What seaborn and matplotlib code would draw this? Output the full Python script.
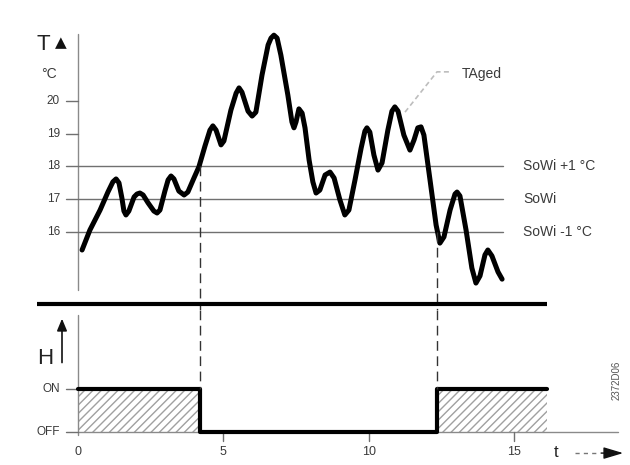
import numpy as np
import matplotlib
matplotlib.use("Agg")
import matplotlib.pyplot as plt
import seaborn as sns

# attenuated room temperature TAged over time (h, degC)
t_hours = [0.14, 0.41, 0.76, 1.03, 1.20, 1.31, 1.41, 1.51, 1.58, 1.65, 1.75,
           1.93, 2.03, 2.13, 2.24, 2.41, 2.61, 2.72, 2.82, 2.99, 3.10, 3.20,
           3.30, 3.47, 3.65, 3.78, 3.99, 4.16, 4.37, 4.54, 4.64, 4.75, 4.92,
           5.02, 5.26, 5.44, 5.54, 5.64, 5.85, 5.99, 6.12, 6.33, 6.54, 6.64,
           6.74, 6.85, 6.98, 7.22, 7.36, 7.43, 7.50, 7.60, 7.71, 7.81, 7.95,
           8.08, 8.19, 8.32, 8.50, 8.67, 8.81, 9.01, 9.18, 9.32, 9.53, 9.74,
           9.87, 9.94, 10.04, 10.18, 10.32, 10.46, 10.66, 10.80, 10.90, 11.01,
           11.21, 11.42, 11.56, 11.69, 11.80, 11.90, 12.11, 12.32, 12.45,
           12.59, 12.80, 12.97, 13.04, 13.14, 13.35, 13.55, 13.69, 13.83,
           14.00, 14.10, 14.24, 14.45, 14.59]
t_aged = [15.45, 16.06, 16.67, 17.22, 17.53, 17.62, 17.50, 17.04, 16.64, 16.52, 16.64,
          17.07, 17.16, 17.19, 17.13, 16.89, 16.64, 16.58, 16.67, 17.25, 17.59, 17.71,
          17.62, 17.25, 17.13, 17.22, 17.65, 17.99, 18.63, 19.11, 19.24, 19.11, 18.66,
          18.78, 19.72, 20.24, 20.40, 20.27, 19.69, 19.54, 19.66, 20.79, 21.71, 21.92,
          22.01, 21.92, 21.40, 20.18, 19.36, 19.18, 19.36, 19.76, 19.63, 19.18, 18.20,
          17.53, 17.19, 17.28, 17.74, 17.83, 17.65, 16.98, 16.52, 16.67, 17.59, 18.56,
          19.08, 19.18, 19.05, 18.35, 17.89, 18.11, 19.11, 19.69, 19.82, 19.69,
          18.96, 18.50, 18.81, 19.18, 19.21, 18.96, 17.59, 16.21, 15.66,
          15.85, 16.67, 17.16, 17.22, 17.10, 16.06, 14.90, 14.44, 14.66,
          15.30, 15.45, 15.27, 14.78, 14.56]

sowi = 17
levels = [sowi + 1, sowi, sowi - 1]
level_labels = ["SoWi +1 °C", "SoWi", "SoWi -1 °C"]
t_ticks = [16, 17, 18, 19, 20]

# heating state H (1 = ON, 0 = OFF)
heat_t = [0, 4.2, 12.35, 16.13]
heat_state = [1, 0, 1, 1]
x_ticks = [0, 5, 10, 15]

sns.set_theme(style="white")
plt.rcParams["font.family"] = ["Liberation Sans", "DejaVu Sans"]

fig = plt.figure(figsize=(6.3, 4.65), dpi=100)
ax_t = fig.add_axes([0, 155 / 465, 1, 295 / 465])
ax_h = fig.add_axes([0, 0, 1, 155 / 465])
xlim = (-2.683, 18.99)
for ax in (ax_t, ax_h):
    ax.set_xlim(*xlim)
    ax.axis("off")
ax_t.set_ylim(13.618, 22.626)
ax_h.set_ylim(-0.767, 2.837)

grey = "#707070"
txt = "#3a3a3a"

# ---- temperature panel
ax_t.plot([0, 0], [14.23, 22.05], color="#8a8a8a", lw=1)
for v in t_ticks:
    ax_t.plot([-0.41, 0], [v, v], color=grey, lw=1)
    ax_t.text(-0.62, v, str(v), ha="right", va="center", fontsize=8.5, color=txt)
for v, lab in zip(levels, level_labels):
    ax_t.plot([0, 14.62], [v, v], color=grey, lw=1)
    ax_t.text(15.31, v, lab, ha="left", va="center", fontsize=10, color=txt)
ax_t.text(-1.2, 21.72, "T", ha="center", va="center", fontsize=16, color="#222")
ax_t.text(-0.58, 21.78, "▲", ha="center", va="center", fontsize=11, color="#111",
          family="DejaVu Sans")
ax_t.text(-1.0, 20.82, "°C", ha="center", va="center", fontsize=10, color=txt)

sns.lineplot(x=t_hours, y=t_aged, ax=ax_t, sort=False, estimator=None,
             color="black", lw=3.6, solid_joinstyle="round", solid_capstyle="round")

# switching points
ax_t.plot([heat_t[1]] * 2, [levels[0], 13.618], color="#333", lw=1, ls=(0, (7, 4)))
ax_t.plot([heat_t[2]] * 2, [levels[2], 13.618], color="#333", lw=1, ls=(0, (7, 4)))
ax_t.plot([-1.41, 16.13], [13.80, 13.80], color="black", lw=3, solid_capstyle="butt")

# TAged label
ax_t.plot([11.25, 12.35, 12.87], [19.66, 20.89, 20.89], color="#bdbdbd", lw=1.2,
          ls=(0, (3, 2)))
ax_t.text(13.2, 20.82, "TAged", ha="left", va="center", fontsize=10, color=txt)

# ---- heating panel
ax_h.plot([0, 0], [-0.07, 2.72], color="#8a8a8a", lw=1)
ax_h.plot([0, 18.58], [0, 0], color="#8a8a8a", lw=1)
for v, lab in zip([1, 0], ["ON", "OFF"]):
    ax_h.plot([-0.41, 0], [v, v], color=grey, lw=1)
    ax_h.text(-0.62, v, lab, ha="right", va="center", fontsize=8.5, color=txt)
for v in x_ticks:
    if v:
        ax_h.plot([v, v], [0, -0.2], color=grey, lw=1)
    ax_h.text(v, -0.47, str(v), ha="center", va="center", fontsize=9, color=txt)

for a, b, s in zip(heat_t[:-1], heat_t[1:], heat_state[:-1]):
    if s:
        ax_h.fill_between([a, b], 0, 1, facecolor="none", edgecolor="#a0a0a0",
                          hatch="////", lw=0)

sns.lineplot(x=heat_t, y=heat_state, ax=ax_h, drawstyle="steps-post",
             estimator=None, color="black", lw=3)
for x in heat_t[1:3]:
    ax_h.plot([x, x], [2.837, 1], color="#333", lw=1, ls=(0, (7, 4)))

ax_h.text(-1.13, 1.72, "H", ha="center", va="center", fontsize=16, color="#222")
ax_h.annotate("", xy=(-0.55, 2.7), xytext=(-0.55, 1.55),
              arrowprops=dict(arrowstyle="-|>,head_width=0.25,head_length=0.6",
                              color="#111", lw=1.2))
ax_h.text(16.45, -0.47, "t", ha="center", va="center", fontsize=12, color="#222")
ax_h.plot([17.1, 17.9], [-0.49, -0.49], color="#777", lw=1, ls=(0, (3, 3)))
ax_h.annotate("", xy=(18.85, -0.49), xytext=(17.9, -0.49),
              arrowprops=dict(arrowstyle="-|>,head_width=0.3,head_length=1.0",
                              color="#111", lw=1))
ax_h.text(18.54, 1.21, "2372D06", rotation=90, ha="center", va="center",
          fontsize=7, color="#555")

fig.savefig("out.png", dpi=100)
